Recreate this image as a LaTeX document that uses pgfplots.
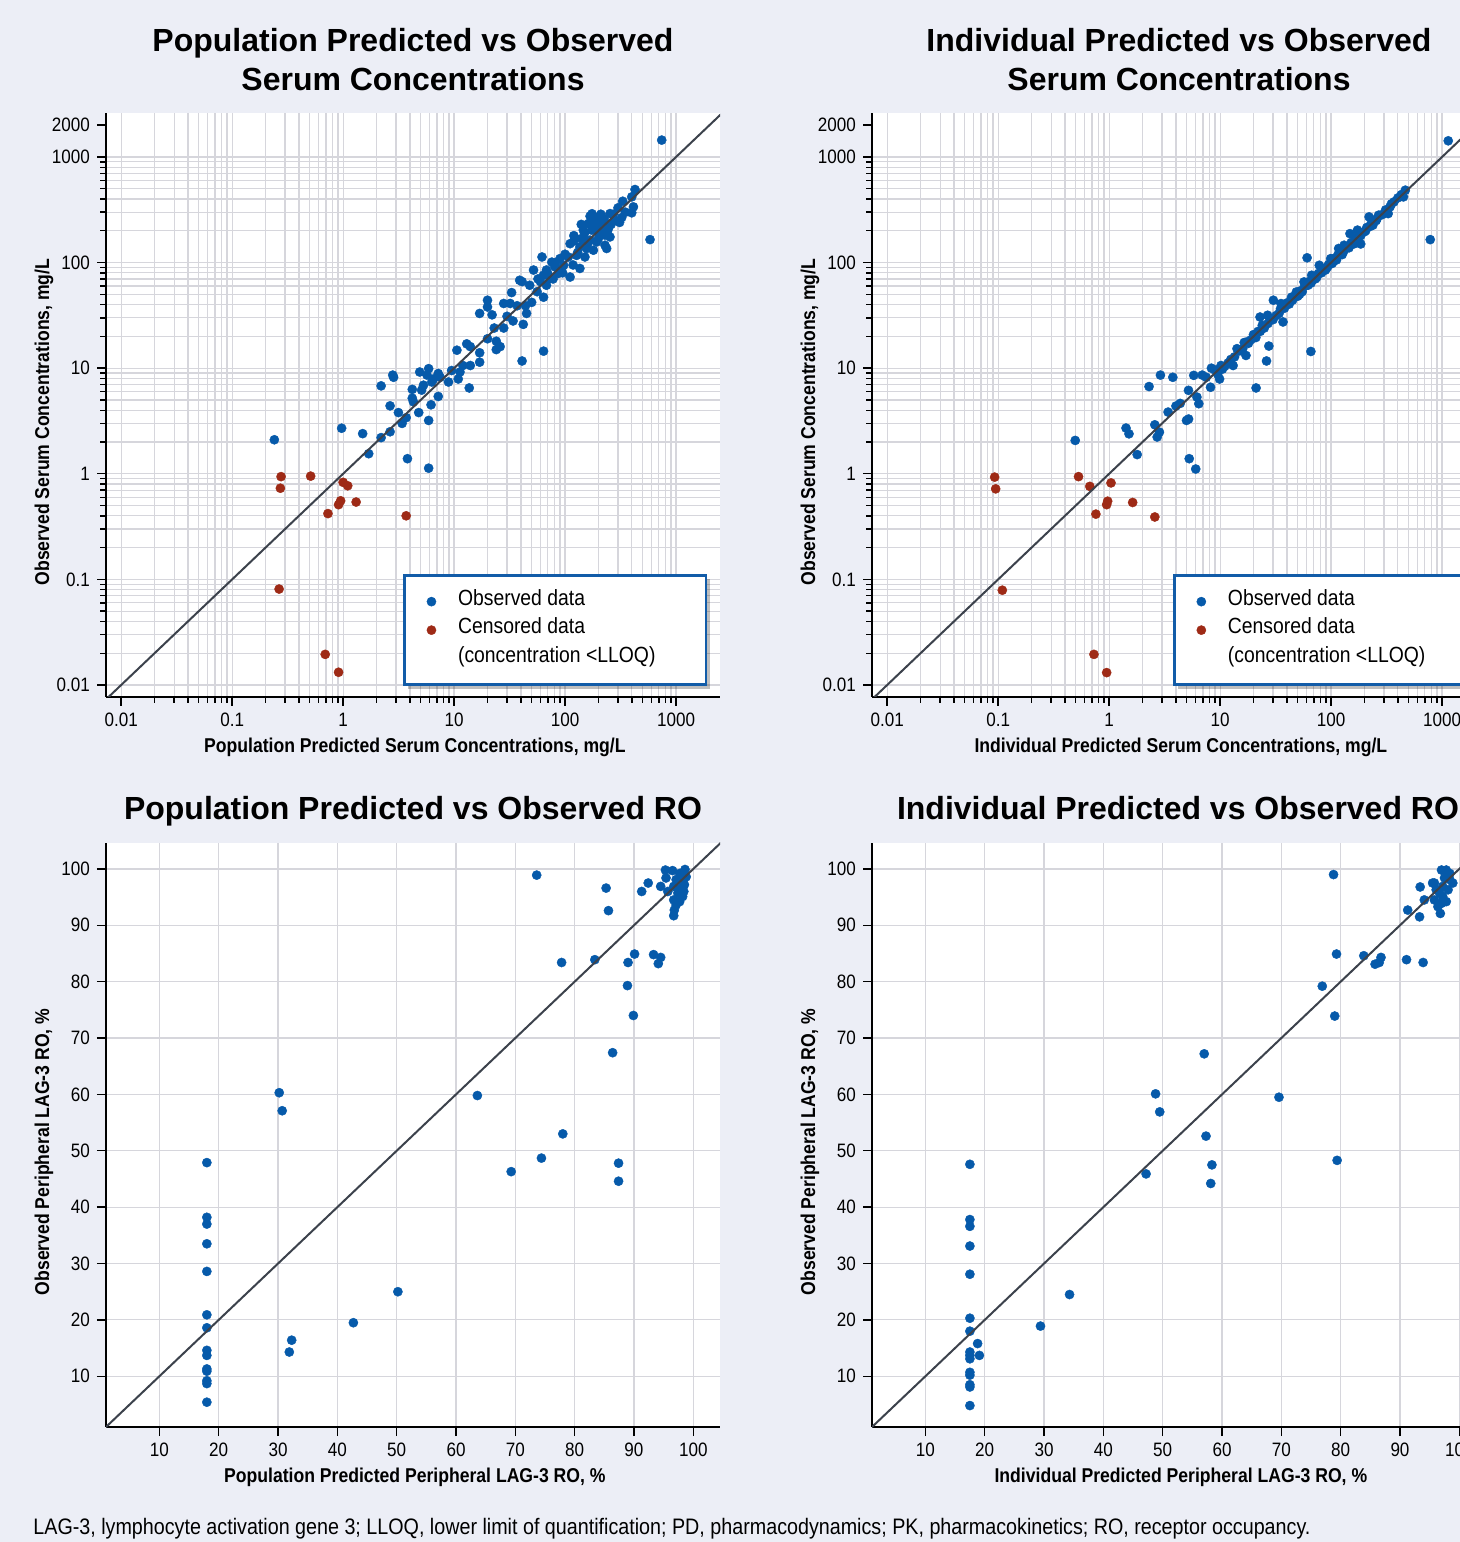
\documentclass[border=0pt]{standalone}
\usepackage{fontspec}
\setmainfont{Liberation Sans}
\newfontfamily\nar[FakeStretch=0.88]{Liberation Sans}
\usepackage{pgfplots}
\pgfplotsset{compat=1.18}
\usetikzlibrary{shadows}
\definecolor{bgc}{RGB}{236,238,246}
\definecolor{obsblue}{RGB}{6,90,170}
\definecolor{cenred}{RGB}{158,42,22}
\definecolor{gridc}{RGB}{214,214,220}
\definecolor{legblue}{RGB}{18,92,168}
\definecolor{linec}{RGB}{60,66,76}
\pgfkeys{/pgf/number format/assume math mode=true}
\pgfplotsset{
  base/.style={scale only axis, width=307pt, height=292pt,
    axis lines*=left, axis line style={line width=1.1pt,black},
    tick align=outside, major tick length=4.5pt, minor tick length=3pt,
    tick style={black,line width=0.7pt},
    grid=both, major grid style={gridc,line width=0.6pt}, minor grid style={gridc,line width=0.6pt},
    axis background/.style={fill=white},
    ticklabel style={font=\nar\fontsize{9.7}{11}\selectfont},
    label style={font=\nar\bfseries\fontsize{10}{12}\selectfont},
    xlabel style={at={(axis description cs:0.503,-0.0856)},anchor=center},
    ylabel style={at={(axis description cs:-0.101,0.471)},anchor=center},
    clip mode=individual},
  logax/.style={base, xmin=0.0073, xmax=2490, ymin=0.0077, ymax=2610,
    xtick={0.01,0.1,1,10,100,1000}, xticklabels={0.01,0.1,1,10,100,1000},
    ytick={0.01,0.1,1,10,100,1000}, yticklabels={0.01,0.1,1,10,100,1000},
    extra y ticks={2000}, extra y tick labels={2000}, extra y tick style={grid=none},
    legend cell align=left,
    legend style={anchor=north west, draw=legblue, line width=1.4pt, fill=white,
      inner xsep=5pt, inner ysep=6pt, row sep=0pt, column sep=9pt,
      font=\nar\fontsize{11}{13}\selectfont,
      drop shadow={shadow xshift=2pt, shadow yshift=-2pt, fill=black, opacity=0.25},
      nodes={inner ysep=0pt, text height=9pt, text depth=5.25pt}}},
  linax/.style={base, xmin=1, xmax=104.5, ymin=1, ymax=104.6,
    xtick={10,20,...,100}, ytick={10,20,...,100}, grid=major},
  obs/.style={only marks, mark=*, mark size=2.3pt, color=obsblue, mark options={obsblue, line width=0.2pt}},
  cen/.style={only marks, mark=*, mark size=2.3pt, color=cenred, mark options={cenred, line width=0.2pt}},
  idl/.style={no marks, linec, line width=1pt, forget plot},
}
\begin{document}
\begin{tikzpicture}
\fill[bgc] (0,0) rectangle (730pt,771pt);
% titles
\node[anchor=base, font=\bfseries\fontsize{16}{19}\selectfont] at (206.5pt,745.25pt) {Population Predicted vs Observed};
\node[anchor=base, font=\bfseries\fontsize{16}{19}\selectfont] at (206.5pt,725.75pt) {Serum Concentrations};
\node[anchor=base, font=\bfseries\fontsize{16}{19}\selectfont] at (589.5pt,745.25pt) {Individual Predicted vs Observed};
\node[anchor=base, font=\bfseries\fontsize{16}{19}\selectfont] at (589.5pt,725.75pt) {Serum Concentrations};
\node[anchor=base, font=\bfseries\fontsize{16}{19}\selectfont] at (206.5pt,361.25pt) {Population Predicted vs Observed RO};
\node[anchor=base, font=\bfseries\fontsize{16}{19}\selectfont] at (589pt,361.25pt) {Individual Predicted vs Observed RO};
\node[anchor=base west, inner sep=0pt, font=\nar\fontsize{11.2}{13}\selectfont] at (16.5pt,3.5pt) {LAG-3, lymphocyte activation gene 3; LLOQ, lower limit of quantification; PD, pharmacodynamics; PK, pharmacokinetics; RO, receptor occupancy.};

% ---------------- top left
\begin{axis}[xmode=log, ymode=log, logax, at={(53pt,422.5pt)}, anchor=south west,
  xlabel={Population Predicted Serum Concentrations, mg/L},
  ylabel={Observed Serum Concentrations, mg/L},
  legend style={at={(0.4837,0.2106)}}]
\addplot[obs] coordinates {
(743,1445)(583,165)(427,492)(399,419)(331,381)(413,337)(399,296)(324,267)(272,287)
(168,275)(210,287)(254,291)(190,234)(162,234)(146,203)(174,203)(207,210)(246,210)
(229,182)(254,175)(141,169)(168,163)(193,157)(229,146)(111,151)(136,141)(157,136)
(180,131)(237,136)(127,117)(151,113)(107,113)(90,109)(76,101)(62,113)(97,94)(81,91)
(68,85)(136,88)(87,79)(111,73)(73,71)(64,76)(52,85)(60,66)(48,61)(41,66)(68,61)
(56,53)(64,47)(50,42)(44,39)(33,52)(39,68)(32,41)(28,41)(37,39)(45,33)(30,31)(34,28)
(42,26)(20,44)(20,38)(22,32)(17,33)(28,24)(23,24)(20,19)(24,18)(26,16)(24,15)(17,14)
(17,11.4)(13,17)(10.6,14.8)(14,16)(12,10.6)(11.3,9.2)(14,10.6)(9.5,9.5)(8.9,7.4)
(10.9,7.9)(41,11.7)(64,14.5)(13.7,6.5)(7.2,8.9)(5.9,9.9)(4.9,9.2)(5.7,8.6)(6.5,7.9)
(7.5,8.2)(6.3,7.4)(5.3,6.9)(4.2,6.3)(5.1,6.2)(4.2,5.2)(4.3,4.8)(7.2,5.4)(6.2,4.5)
(4.8,3.8)(5.9,3.2)(3.7,3.4)(3.4,3.0)(2.8,8.6)(2.85,8.2)(2.2,6.8)(2.65,4.4)(3.15,3.8)
(2.65,2.5)(2.2,2.2)(1.7,1.55)(1.5,2.4)(0.97,2.7)(0.24,2.1)(3.8,1.39)(5.9,1.13)
(120,180)(150,190)(185,250)(200,170)(215,240)(160,150)(130,125)(100,120)(118,95)
(95,80)(78,70)(70,78)(57,70)(82,100)(185,215)(225,260)(300,330)(280,250)(350,300)(310,240)
(175,290)(195,265)(140,230)(120,160)(205,195)(220,225)(260,230)(240,195)(150,160)
};
\addlegendentry{Observed data}
\addplot[cen] coordinates {
(0.276,0.94)(0.272,0.73)(0.51,0.95)(1.0,0.83)(1.10,0.77)(0.95,0.555)(0.91,0.51)
(1.31,0.54)(0.73,0.42)(3.7,0.40)(0.265,0.081)(0.69,0.0195)(0.91,0.0132)
};
\addlegendentry{Censored data}
\addlegendimage{empty legend}
\addlegendentry{\makebox[117pt][l]{(concentration <LLOQ)}}
\addplot[idl] coordinates {(0.005,0.005)(3000,3000)};
\end{axis}

% ---------------- top right
\begin{axis}[xmode=log, ymode=log, logax, at={(436pt,422.5pt)}, anchor=south west,
  xlabel={Individual Predicted Serum Concentrations, mg/L},
  ylabel={Observed Serum Concentrations, mg/L},
  legend style={at={(0.490,0.2106)}}]
\addplot[obs] coordinates {
(1137,1423)(783,165)(467,485)(449,419)(369,376)(340,337)(327,291)(268,281)(220,271)
(238,226)(173,203)(185,150)(148,188)(131,146)(117,136)(99.3,109)(88.3,84.6)(78.3,94.3)
(66.9,75.9)(57,65.6)(48.7,52.7)(35.4,40.9)(30.2,44)(36.9,27.4)(26.8,31.7)(22.9,30.5)
(22,22.3)(17.3,17.7)(17.1,13.2)(14.2,15.3)(13.1,10.6)(10.2,10.6)(9.9,7.9)(8.35,10)
(60.8,111)(65.8,14.4)(21.1,6.5)(27.5,16.2)(26.2,11.7)(2.9,8.6)(3.75,8.2)(2.29,6.7)
(1.42,2.71)(1.51,2.39)(0.495,2.07)(1.79,1.52)(5.27,1.39)(6.03,1.11)(2.58,2.91)
(2.84,2.48)(2.71,2.23)(4.98,3.2)(5.2,3.3)(3.4,3.84)(4.0,4.38)(4.37,4.64)(5.19,6.17)
(6.18,5.33)(6.43,4.61)(5.79,8.55)(6.9,8.6)(7.5,8.2)(8.2,6.6)
(9.0,9.6)(9.5,8.8)(10.5,9.8)(11,10.4)(11.8,11.2)(12.5,12.1)(13.5,12.8)(15,14.6)(16,15.3)
(16.5,17.5)(18,17.2)(19,18.6)(20,20.8)(21,19.5)(23,22.3)(24,25.5)(25,24)(27,26.5)
(28,29.5)(30,28.8)(32,31.5)(34,33)(35,36.5)(38,37)(40,41.5)(42,40.5)(45,44)(48,49.5)
(50,48)(53,54)(55,53)(58,60)(62,61)(66,64)(70,71)(74,72)(77,79)(82,80)(86,88)(90,87)
(95,96)(102,98)(108,110)(112,106)(120,122)(126,119)(135,137)(142,140)(152,155)
(160,150)(168,172)(178,176)(190,192)(200,196)(210,215)(225,220)(240,245)(255,250)
(275,280)(290,285)(310,315)(350,360)(400,410)(430,440)
(105,102)(115,118)(130,128)(145,138)(165,160)(185,180)(205,200)(230,235)(260,262)
(44,47)(52,50)(63,66)(72,70)(84,86)(93,91)
};
\addlegendentry{Observed data}
\addplot[cen] coordinates {
(0.093,0.93)(0.095,0.72)(0.53,0.94)(0.67,0.76)(1.04,0.82)(0.97,0.55)(0.95,0.51)
(0.76,0.415)(1.63,0.535)(2.58,0.39)(0.109,0.079)(0.73,0.0195)(0.95,0.0131)
};
\addlegendentry{Censored data}
\addlegendimage{empty legend}
\addlegendentry{\makebox[117pt][l]{(concentration <LLOQ)}}
\addplot[idl] coordinates {(0.005,0.005)(3000,3000)};
\end{axis}

% ---------------- bottom left
\begin{axis}[linax, at={(53pt,57.5pt)}, anchor=south west,
  xlabel={Population Predicted Peripheral LAG-3 RO, \%},
  ylabel={Observed Peripheral LAG-3 RO, \%}]
\addplot[obs] coordinates {
(18,47.9)(18,38.2)(18,37.0)(18,33.5)(18,28.6)(18,20.9)(18,18.6)(18,14.6)(18,13.7)
(18,11.3)(18,10.9)(18,9.2)(18,8.7)(18,5.4)
(30.2,60.3)(30.7,57.1)(31.9,14.3)(32.3,16.4)(42.7,19.5)(50.2,25.0)(69.3,46.3)(74.4,48.7)
(63.6,59.8)(78.0,53.0)(73.6,98.9)(85.3,96.6)(85.7,92.6)(77.8,83.4)(83.4,83.9)(92.4,97.5)
(91.3,96.0)(94.5,96.9)(90.1,84.9)(89.0,83.4)(93.3,84.8)(94.5,84.3)(94.1,83.2)(88.9,79.3)
(89.9,74.0)(86.4,67.4)(87.4,47.8)(87.4,44.6)
(95.3,99.8)(96.5,99.7)(98.6,99.9)(97.7,99.2)(95.4,98.4)(97.1,98.1)(98.2,97.8)(98.8,98.6)
(96.7,96.9)(97.8,96.6)(98.4,96.0)(97.4,95.7)(96.7,94.5)(97.7,94.2)(97.1,93.6)(96.8,92.7)
(96.7,91.7)(98.5,97.2)(98.2,95.1)(95.7,96.0)
};
\addplot[idl] coordinates {(0,0)(110,110)};
\end{axis}

% ---------------- bottom right
\begin{axis}[linax, at={(436pt,57.5pt)}, anchor=south west,
  xlabel={Individual Predicted Peripheral LAG-3 RO, \%},
  ylabel={Observed Peripheral LAG-3 RO, \%}]
\addplot[obs] coordinates {
(17.5,47.6)(17.5,37.8)(17.5,36.6)(17.5,33.1)(17.5,28.1)(17.5,20.3)(17.5,18.0)(17.5,14.3)
(17.5,13.7)(17.5,13.1)(17.5,10.7)(17.5,10.2)(17.5,8.5)(17.5,8.1)(17.5,4.8)
(18.8,15.8)(19.1,13.7)(29.4,18.9)(34.3,24.5)(47.2,45.9)(57.3,52.6)(58.3,47.5)(58.1,44.2)
(79.4,48.3)(57.0,67.2)(48.8,60.1)(49.5,56.9)(69.6,59.5)(78.8,99.0)(79.3,84.9)(76.9,79.2)
(79.0,73.9)(83.9,84.6)(85.8,83.1)(86.5,83.4)(86.8,84.3)(91.1,83.9)(93.9,83.4)(91.3,92.7)
(93.3,91.5)(93.4,96.8)(94.1,94.5)
(95.5,97.5)(97.0,99.8)(97.8,99.8)(98.4,99.2)(96.1,96.3)(97.2,96.9)(98.1,96.3)(96.7,95.7)
(95.8,94.5)(97.0,93.9)(97.8,94.2)(96.8,92.1)(96.4,93.3)(98.4,98.1)(97.5,98.4)(95.8,97.5)
(98.9,97.5)(97.2,95.1)
};
\addplot[idl] coordinates {(0,0)(110,110)};
\end{axis}
\pgfresetboundingbox
\path[use as bounding box] (0,0) rectangle (730pt,771pt);
\end{tikzpicture}
\end{document}
